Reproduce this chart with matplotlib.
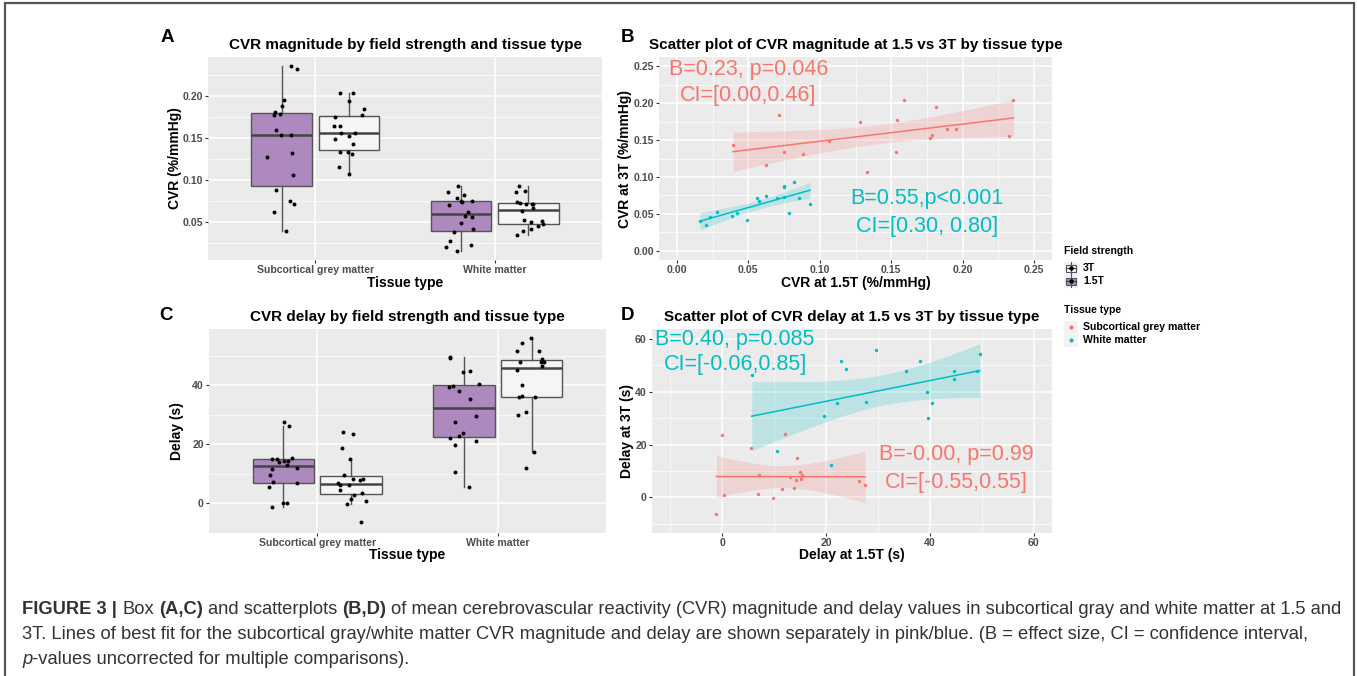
import numpy as np
import matplotlib
matplotlib.use('Agg')
import matplotlib.pyplot as plt
from matplotlib.patches import Rectangle

plt.rcParams['font.family'] = ['Liberation Sans', 'DejaVu Sans']
plt.rcParams['font.weight'] = 'bold'
plt.rcParams['axes.titleweight'] = 'bold'
plt.rcParams['axes.labelweight'] = 'bold'

# ---- data (paired per subject: value at 1.5T and at 3T) ----
tissues = ['Subcortical grey matter', 'White matter']
field_labels = ['3T', '1.5T']

cvr_gm_15 = [0.0393, 0.0716, 0.0749, 0.0623, 0.0885, 0.1065, 0.1278, 0.1327, 0.1536,
             0.1543, 0.1592, 0.1810, 0.1770, 0.1788, 0.1887, 0.1952, 0.2327, 0.2355]
cvr_gm_3 = [0.1430, 0.1844, 0.1335, 0.1156, 0.1317, 0.1493, 0.1749, 0.1070, 0.1340,
            0.1772, 0.2041, 0.1942, 0.1524, 0.1565, 0.1650, 0.1650, 0.1560, 0.2037]
cvr_wm_15 = [0.0162, 0.0201, 0.0229, 0.0281, 0.0386, 0.0421, 0.0494, 0.0559, 0.0574,
             0.0625, 0.0700, 0.0747, 0.0751, 0.0751, 0.0787, 0.0819, 0.0857, 0.0932]
cvr_wm_3 = [0.0400, 0.0351, 0.0454, 0.0522, 0.0477, 0.0508, 0.0418, 0.0715, 0.0670,
            0.0737, 0.0715, 0.0728, 0.0872, 0.0865, 0.0513, 0.0935, 0.0715, 0.0634]

delay_gm_15 = [-1.1, 0.0, 0.3, 5.5, 7.1, 7.0, 9.7, 11.5, 12.1,
               13.0, 13.9, 14.3, 14.5, 15.0, 15.2, 15.3, 26.3, 27.5]
delay_gm_3 = [-6.2, 23.5, 0.8, 18.6, 8.3, 1.4, -0.1, 3.0, 24.2,
              7.8, 3.4, 6.4, 14.9, 9.5, 6.9, 8.3, 6.3, 4.5]
delay_wm_15 = [5.7, 10.6, 21.0, 19.6, 22.2, 27.6, 22.8, 23.8, 29.6,
               35.3, 38.1, 39.5, 39.7, 40.4, 44.6, 44.7, 49.1, 49.6]
delay_wm_3 = [46.4, 17.4, 12.1, 30.9, 35.9, 36.2, 51.6, 48.7, 55.9,
              47.7, 51.7, 40.0, 30.0, 35.9, 47.8, 45.0, 48.0, 54.2]

stats_b = [('B=0.23, p=0.046', 'CI=[0.00,0.46]'), ('B=0.55,p<0.001', 'CI=[0.30, 0.80]')]
stats_d = [('B=-0.00, p=0.99', 'CI=[-0.55,0.55]'), ('B=0.40, p=0.085', 'CI=[-0.06,0.85]')]

caption = [
    [('FIGURE 3 |', 'bold', 'normal', True), ('Box', 'normal', 'normal', True),
     ('(A,C)', 'bold', 'normal', True), ('and scatterplots', 'normal', 'normal', True),
     ('(B,D)', 'bold', 'normal', True),
     ('of mean cerebrovascular reactivity (CVR) magnitude and delay values in subcortical '
      'gray and white matter at 1.5 and', 'normal', 'normal', False)],
    [('3T. Lines of best fit for the subcortical gray/white matter CVR magnitude and delay are '
      'shown separately in pink/blue. (B = effect size, CI = confidence interval,',
      'normal', 'normal', False)],
    [('p', 'normal', 'italic', False),
     ('-values uncorrected for multiple comparisons).', 'normal', 'normal', False)],
]

PINK = '#F8766D'
TEAL = '#00BFC4'
PURPLE = '#AE89BF'
WHITE_BOX = '#F5F5F5'
T975 = {16: 2.1199}

W, H = 1357, 676
fig = plt.figure(figsize=(W / 100, H / 100), dpi=100)


def px_axes(l, t, r, b):
    ax = fig.add_axes([l / W, 1 - b / H, (r - l) / W, (b - t) / H])
    ax._px = (l, t, r, b)
    return ax


def place_labels(ax, ylab_x, xlab_y):
    # put axis-title centres at given pixel positions
    l, t, r, b = ax._px
    ax.yaxis.label.set_verticalalignment('center')
    ax.xaxis.label.set_verticalalignment('center')
    ax.yaxis.set_label_coords((ylab_x - l) / (r - l), 0.5)
    ax.xaxis.set_label_coords(0.5, (b - xlab_y) / (b - t))


def style(ax):
    ax.set_facecolor('#EBEBEB')
    for s in ax.spines.values():
        s.set_visible(False)
    ax.grid(True, which='major', color='white', lw=1.1)
    ax.grid(True, which='minor', color='white', lw=0.5)
    ax.set_axisbelow(True)
    ax.tick_params(which='major', length=2.2, width=0.8, color='#333333',
                   labelsize=7.6, labelcolor='#4D4D4D', pad=1.5)
    ax.tick_params(which='minor', length=0)


def expand(vals, frac=0.05):
    lo, hi = min(vals), max(vals)
    d = (hi - lo) * frac
    return lo - d, hi + d


def box_panel(ax, g15, g3, w15, w3, yticks, fmt, title, ylabel, seed):
    style(ax)
    rng = np.random.default_rng(seed)
    groups = [(g15, 1 - 0.1875, PURPLE), (g3, 1 + 0.1875, WHITE_BOX),
              (w15, 2 - 0.1875, PURPLE), (w3, 2 + 0.1875, WHITE_BOX)]
    for vals, pos, col in groups:
        ax.boxplot(vals, positions=[pos], widths=0.34, patch_artist=True,
                   showfliers=False, showcaps=False, whis=1.5,
                   boxprops=dict(facecolor=col, edgecolor='#555555', lw=1.0),
                   whiskerprops=dict(color='#555555', lw=1.0),
                   medianprops=dict(color='#444444', lw=1.8), zorder=2)
        jit = pos + rng.uniform(-0.085, 0.085, len(vals))
        ax.scatter(jit, vals, s=8, color='black', zorder=3, lw=0)
    ax.set_xlim(0.4, 2.6)
    ax.set_ylim(*expand(g15 + g3 + w15 + w3))
    ax.set_xticks([1, 2])
    ax.set_xticklabels(tissues)
    ax.set_yticks(yticks)
    ax.set_yticklabels([fmt.format(v) for v in yticks])
    step = yticks[1] - yticks[0]
    ax.set_yticks([v - step / 2 for v in yticks] + [yticks[-1] + step / 2], minor=True)
    ax.set_title(title, fontsize=11, pad=6)
    ax.set_xlabel('Tissue type', fontsize=10)
    ax.set_ylabel(ylabel, fontsize=10)


def fit_band(x, y, n_pts=100):
    x = np.asarray(x, float)
    y = np.asarray(y, float)
    n = len(x)
    slope, icpt = np.polyfit(x, y, 1)
    xs = np.linspace(x.min(), x.max(), n_pts)
    yhat = icpt + slope * xs
    resid = y - (icpt + slope * x)
    s = np.sqrt(np.sum(resid ** 2) / (n - 2))
    se = s * np.sqrt(1 / n + (xs - x.mean()) ** 2 / np.sum((x - x.mean()) ** 2))
    t = T975[n - 2]
    return xs, yhat, yhat - t * se, yhat + t * se


def scatter_panel(ax, pairs, lims, ticks, minor, fmt, title, xlabel, ylabel):
    style(ax)
    for x, y, col in pairs:
        xs, yhat, lo, hi = fit_band(x, y)
        ax.fill_between(xs, lo, hi, color=col, alpha=0.2, lw=0, zorder=2)
        ax.plot(xs, yhat, color=col, lw=1.1, zorder=3)
        ax.scatter(x, y, s=6, color=col, lw=0, zorder=4)
    d = (lims[1] - lims[0]) * 0.05
    ax.set_xlim(lims[0] - d, lims[1] + d)
    ax.set_ylim(lims[0] - d, lims[1] + d)
    ax.set_xticks(ticks)
    ax.set_yticks(ticks)
    ax.set_xticklabels([fmt.format(v) for v in ticks])
    ax.set_yticklabels([fmt.format(v) for v in ticks])
    ax.set_xticks(minor, minor=True)
    ax.set_yticks(minor, minor=True)
    ax.set_title(title, fontsize=11, pad=6)
    ax.set_xlabel(xlabel, fontsize=10)
    ax.set_ylabel(ylabel, fontsize=10)


# ---- panel A ----
axA = px_axes(208, 57, 602, 260)
box_panel(axA, cvr_gm_15, cvr_gm_3, cvr_wm_15, cvr_wm_3,
          [0.05, 0.10, 0.15, 0.20], '{:.2f}',
          'CVR magnitude by field strength and tissue type', 'CVR (%/mmHg)', 7)
place_labels(axA, 175, 283)

# ---- panel C ----
axC = px_axes(209, 329, 606, 533)
box_panel(axC, delay_gm_15, delay_gm_3, delay_wm_15, delay_wm_3,
          [0, 20, 40], '{:.0f}',
          'CVR delay by field strength and tissue type', 'Delay (s)', 11)
place_labels(axC, 177, 555)

# ---- panel B ----
axB = px_axes(659, 57, 1052, 260)
scatter_panel(axB, [(cvr_gm_15, cvr_gm_3, PINK), (cvr_wm_15, cvr_wm_3, TEAL)],
              (0, 0.25), [0, 0.05, 0.10, 0.15, 0.20, 0.25],
              [0.025, 0.075, 0.125, 0.175, 0.225], '{:.2f}',
              'Scatter plot of CVR magnitude at 1.5 vs 3T by tissue type',
              'CVR at 1.5T (%/mmHg)', 'CVR at 3T (%/mmHg)')
place_labels(axB, 625, 283)
axB.text(0.05, 0.2455, stats_b[0][0], color=PINK, fontsize=15.5, fontweight='normal',
         ha='center', va='center')
axB.text(0.05, 0.211, stats_b[0][1], color=PINK, fontsize=15.5, fontweight='normal',
         ha='center', va='center')
axB.text(0.175, 0.0706, stats_b[1][0], color=TEAL, fontsize=15.5, fontweight='normal',
         ha='center', va='center')
axB.text(0.175, 0.0333, stats_b[1][1], color=TEAL, fontsize=15.5, fontweight='normal',
         ha='center', va='center')

# ---- panel D ----
axD = px_axes(652, 329, 1052, 533)
scatter_panel(axD, [(delay_gm_15, delay_gm_3, PINK), (delay_wm_15, delay_wm_3, TEAL)],
              (-10, 60), [0, 20, 40, 60], [-10, 10, 30, 50], '{:.0f}',
              'Scatter plot of CVR delay at 1.5 vs 3T by tissue type',
              'Delay at 1.5T (s)', 'Delay at 3T (s)')
axD.set_xlim(-13.5, 63.5)
axD.set_ylim(-13.5, 63.8)
place_labels(axD, 627, 555)
axD.text(2.5, 60, stats_d[1][0], color=TEAL, fontsize=15.5, fontweight='normal',
         ha='center', va='center')
axD.text(2.5, 50.3, stats_d[1][1], color=TEAL, fontsize=15.5, fontweight='normal',
         ha='center', va='center')
axD.text(45, 16.3, stats_d[0][0], color=PINK, fontsize=15.5, fontweight='normal',
         ha='center', va='center')
axD.text(45, 5.5, stats_d[0][1], color=PINK, fontsize=15.5, fontweight='normal',
         ha='center', va='center')

# ---- overlay: panel letters, legend, border, caption ----
ov = fig.add_axes([0, 0, 1, 1], zorder=10)
ov.set_xlim(0, W)
ov.set_ylim(H, 0)
ov.axis('off')
ov.patch.set_alpha(0)

for letter, (lx, ly) in zip('ABCD', [(167, 37), (628, 37), (166, 316), (628, 316)]):
    ov.text(lx, ly, letter, fontsize=13.5, ha='center', va='center')

# legend
ov.text(1064, 251, 'Field strength', fontsize=7.5, va='center')
for i, (lab, col) in enumerate(zip(field_labels, [WHITE_BOX, PURPLE])):
    cy = 268 + i * 13
    ov.add_patch(Rectangle((1064, cy - 6.5), 14, 13, color='#F2F2F2', lw=0))
    ov.plot([1071, 1071], [cy - 6, cy + 6], color='#555555', lw=0.8)
    ov.add_patch(Rectangle((1066, cy - 3.5), 10, 7, facecolor=col, edgecolor='#555555', lw=0.8))
    ov.plot([1066, 1076], [cy, cy], color='#444444', lw=0.8)
    ov.plot([1071], [cy], 'o', color='black', ms=2.2)
    ov.text(1083, cy, lab, fontsize=7.6, va='center')

ov.text(1064, 310, 'Tissue type', fontsize=7.5, va='center')
for i, (lab, col) in enumerate(zip(tissues, [PINK, TEAL])):
    cy = 327 + i * 13
    ov.add_patch(Rectangle((1064, cy - 6.5), 14, 13, color='#F2F2F2', lw=0))
    ov.plot([1071], [cy], 'o', color=col, ms=2)
    ov.text(1083, cy, lab, fontsize=7.6, va='center')

# border
ov.plot([5, 5, 1354, 1354], [H, 3, 3, H], color='#555555', lw=1.6, solid_joinstyle='miter')

# caption with mixed styles
fig.canvas.draw()
rend = fig.canvas.get_renderer()
cap_size = 13.2
cap_col = '#333333'


def text_w(s, weight, style_):
    t = ov.text(0, 0, s, fontsize=cap_size, fontweight=weight, fontstyle=style_)
    w = t.get_window_extent(renderer=rend).width
    t.remove()
    return w


space_w = text_w('a a', 'normal', 'normal') - text_w('aa', 'normal', 'normal')
for li, line in enumerate(caption):
    x = 22
    y = 614 + li * 25
    for s, weight, style_, gap in line:
        t = ov.text(x, y, s, fontsize=cap_size, fontweight=weight, fontstyle=style_,
                    color=cap_col, va='baseline', ha='left')
        x += t.get_window_extent(renderer=rend).width + (space_w if gap else 0)

fig.savefig('out.png', dpi=100)
